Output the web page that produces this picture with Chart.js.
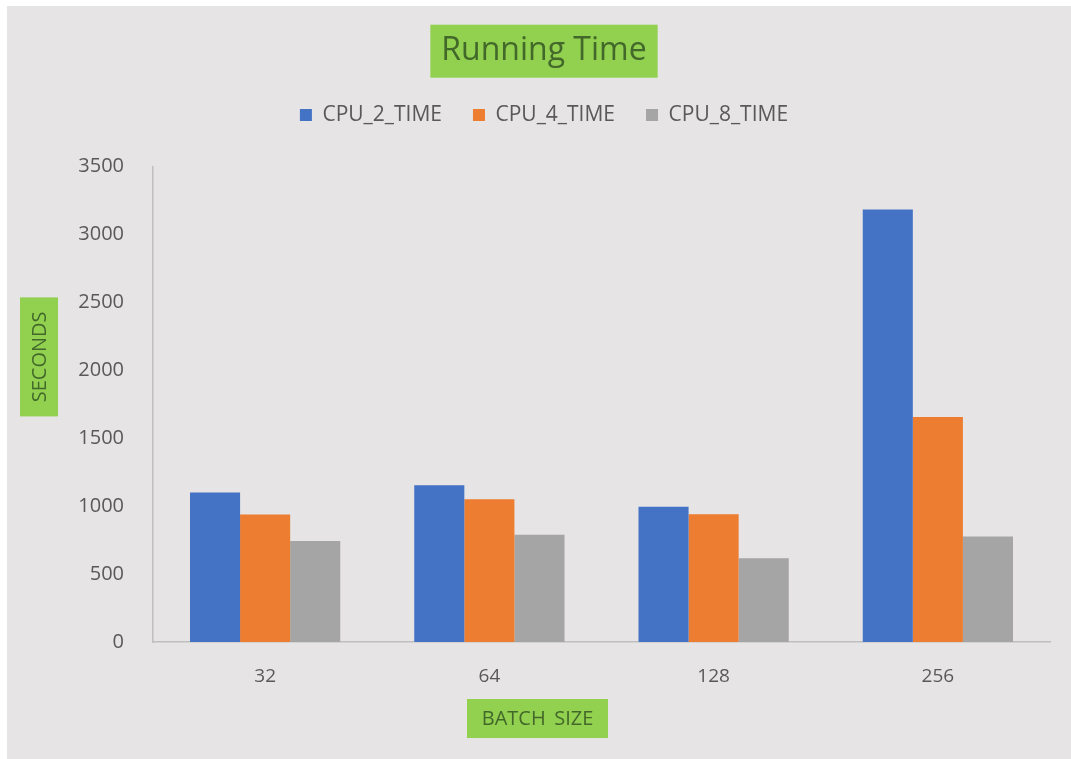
<!DOCTYPE html>
<html>
<head>
<meta charset="utf-8">
<title>Running Time</title>
<script src="https://cdn.jsdelivr.net/npm/chart.js@4/dist/chart.umd.min.js"></script>
<style>
    html, body { margin: 0; padding: 0; background: #ffffff; }
    #wrap { position: absolute; left: 7px; top: 6px; width: 1064px; height: 753px; }
</style>
</head>
<body>
<div id="wrap"><canvas id="chartRunningTime"></canvas></div>
<script>
const batchSizes = ["32", "64", "128", "256"];
const cpu2Time = [1100, 1153, 995, 3183];
const cpu4Time = [938, 1050, 940, 1655];
const cpu8Time = [743, 789, 617, 776];

const seriesNames = ["CPU_2_TIME", "CPU_4_TIME", "CPU_8_TIME"];
const yTicks = { min: 0, max: 3500, step: 500 };

const chartTitle = "Running Time";
const xAxisTitle = "BATCH SIZE";
const yAxisTitle = "SECONDS";

const FONT = "'Open Sans', 'Noto Sans', sans-serif";
const GREEN = "#92d050";
const GREEN_TEXT = "#42682a";

document.addEventListener("DOMContentLoaded", () => {
    initChartRunningTime();
});

function initChartRunningTime() {
    const ctx = document.getElementById("chartRunningTime");
    if (!ctx) return;

    // fondo gris + cajas verdes detras del titulo y titulos de ejes
    const greenBoxes = {
        id: 'greenBoxes',
        beforeInit(chart) {
            // espacio extra debajo de la leyenda
            const fit = chart.legend.fit;
            chart.legend.fit = function () {
                fit.bind(chart.legend)();
                this.height += 31;
            };
        },
        beforeDraw(chart) {
            const { ctx: c, width, height, chartArea: a } = chart;
            c.save();
            c.fillStyle = '#e6e4e4';
            c.fillRect(0, 0, width, height);

            // caja del titulo
            const tb = chart.titleBlock;
            c.font = `32px ${FONT}`;
            const tw = c.measureText(chartTitle).width;
            const tcx = (tb.left + tb.right) / 2;
            const tcy = tb.top + 26 + 19.2;
            c.fillStyle = GREEN;
            c.fillRect(tcx - tw / 2 - 11, tcy - 26.5, tw + 22, 53);

            // titulo eje X
            const xcx = a.left + 384.5;
            const xcy = a.bottom + 76.5;
            c.fillStyle = GREEN;
            c.fillRect(xcx - 70.5, xcy - 19.5, 141, 39);
            c.fillStyle = GREEN_TEXT;
            c.font = `20px ${FONT}`;
            c.textAlign = 'center';
            c.textBaseline = 'middle';
            c.fillText(xAxisTitle.split(' ').join('\u2009 '), xcx, xcy + 1);

            // titulo eje Y
            const ycx = a.left - 114;
            const ycy = a.top + 190.5;
            c.fillStyle = GREEN;
            c.fillRect(ycx - 19, ycy - 59.5, 38, 119);
            c.translate(ycx, ycy);
            c.rotate(-Math.PI / 2);
            c.fillStyle = GREEN_TEXT;
            c.font = `20px ${FONT}`;
            c.fillText(yAxisTitle, 0, 1);
            c.restore();
        }
    };

    new Chart(ctx, {
        type: 'bar',
        data: {
            labels: batchSizes,
            datasets: [
                { label: seriesNames[0], data: cpu2Time, backgroundColor: "#4472c4" },
                { label: seriesNames[1], data: cpu4Time, backgroundColor: "#ed7d31" },
                { label: seriesNames[2], data: cpu8Time, backgroundColor: "#a5a5a5" }
            ]
        },
        options: {
            responsive: true,
            maintainAspectRatio: false,
            animation: false,
            datasets: { bar: { categoryPercentage: 0.67, barPercentage: 1.0, borderWidth: 0 } },
            layout: { padding: { top: 0, left: 31, right: 21, bottom: 57 } },
            plugins: {
                title: {
                    display: true,
                    text: chartTitle,
                    color: GREEN_TEXT,
                    font: { family: FONT, size: 32, weight: 'normal' },
                    padding: { top: 26, bottom: 3 }
                },
                legend: {
                    display: true,
                    labels: {
                        color: "#595959",
                        font: { family: FONT, size: 21 },
                        boxWidth: 12,
                        boxHeight: 12,
                        padding: 31
                    }
                },
                tooltip: { enabled: false }
            },
            scales: {
                x: {
                    grid: { display: false },
                    border: { display: true, color: "#bfbfbf", width: 1.5 },
                    ticks: { color: "#595959", font: { family: FONT, size: 19 }, padding: 15 },
                    afterFit(scale) { scale.height = 60; }
                },
                y: {
                    min: yTicks.min,
                    max: yTicks.max,
                    grid: { display: false },
                    border: { display: true, color: "#bfbfbf", width: 1.5 },
                    ticks: {
                        stepSize: yTicks.step,
                        color: "#595959",
                        font: { family: FONT, size: 20 },
                        padding: 21,
                        callback: v => String(v)
                    },
                    afterFit(scale) { scale.width = 115; }
                }
            }
        },
        plugins: [greenBoxes]
    });
}
</script>
</body>
</html>
